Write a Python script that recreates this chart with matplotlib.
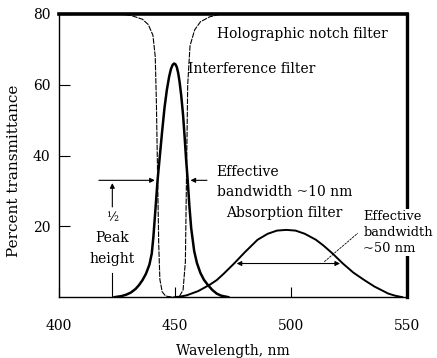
import numpy as np
import matplotlib.pyplot as plt

plt.rcParams['font.family'] = ['DejaVu Serif']
plt.rcParams['font.size'] = 10

# curves (wavelength nm, percent transmittance)
interf_x = [424, 427, 429, 431, 433, 434.5, 436, 437.5, 439, 440, 440.7,
            441.5, 442.5, 443.5, 444.5, 445.5, 446.5, 447.5, 448.3, 449,
            449.6, 450.2, 450.8, 451.4, 452, 452.7, 453.5, 454.2, 454.8,
            455.5, 456.2, 457, 458.3, 459.5, 461, 462.5, 464, 466, 468,
            470, 473]
interf_y = [0, 0.3, 0.7, 1.3, 2.3, 3.4, 4.8, 6.6, 9.2, 12.3, 17,
            24, 33, 40, 47, 53.5, 58.5, 62.3, 64.5, 65.6,
            66, 65.8, 65, 63.3, 60.8, 57, 51.5, 45, 39,
            33, 26, 19.5, 13, 9.6, 6.8, 4.9, 3.6, 2.1, 1.0,
            0.4, 0]

notch_x = [400, 425, 431, 436, 438.5, 440.5, 441.5, 442, 442.5, 443, 443.5,
           444.5, 446, 449, 452, 453.5, 454.5, 455, 455.5, 456.5, 458.5,
           461, 465, 470, 550]
notch_y = [80, 80, 79.6, 78.5, 77, 74, 68, 55, 35, 15, 5,
           1.5, 0.3, 0, 0.3, 2, 10, 35, 60, 71, 75.5,
           77.8, 79.2, 80, 80]

absorb_x = [451, 455, 460, 465, 468, 471, 475.5, 480, 485.6, 490, 494, 498,
            502, 506, 510.8, 514, 518, 522.4, 527, 531.7, 536, 539, 542,
            545, 548]
absorb_y = [0, 0.5, 1.7, 3.5, 4.8, 6.6, 9.5, 12.6, 16.2, 17.9, 18.8, 19,
            18.8, 17.9, 16.2, 14.6, 12.3, 9.5, 6.9, 4.8, 3.0, 2.0, 1.0,
            0.4, 0]

xticks = [400, 450, 500, 550]
yticks = [20, 40, 60, 80]

fig = plt.figure(figsize=(4.37, 3.58), dpi=100)
ax = fig.add_axes([0.135, 0.170, 0.796, 0.791])

ax.plot(notch_x, notch_y, color='black', lw=0.8, ls=(0, (5, 1)))
ax.plot(interf_x, interf_y, color='black', lw=1.8)
ax.plot(absorb_x, absorb_y, color='black', lw=1.4)

ax.set_xlim(400, 550)
ax.set_ylim(0, 80)
ax.set_xticks(xticks)
ax.set_yticks(yticks)
ax.set_xticklabels([str(t) for t in xticks])
ax.set_yticklabels([str(t) for t in yticks])
ax.tick_params(axis='x', direction='in', length=7, width=0.8, pad=16)
ax.tick_params(axis='y', direction='in', length=8, width=0.8, pad=6)
ax.set_xlabel('Wavelength, nm', labelpad=8)
ax.set_ylabel('Percent transmittance', fontsize=11)
ax.yaxis.set_label_coords(-0.108, 0.445)

for s in ['left', 'bottom']:
    ax.spines[s].set_linewidth(1.0)
ax.spines['top'].set_linewidth(2.6)
ax.spines['right'].set_linewidth(2.4)

# half peak markers for the interference filter
half = max(interf_y) / 2
arr = dict(arrowstyle='-|>', color='black', lw=0.8, mutation_scale=7)
ax.annotate('', xy=(442.5, half), xytext=(416, half), arrowprops=arr)
ax.annotate('', xy=(455.5, half), xytext=(465, half), arrowprops=arr)
ax.annotate('', xy=(423, half), xytext=(423, 24.7), arrowprops=arr)
ax.plot([423, 423], [0, 6.8], color='black', lw=0.8)
ax.text(423, 22.5, '½', ha='center', va='center', fontsize=9)
ax.text(423, 16.7, 'Peak', ha='center', va='center')
ax.text(423, 10.8, 'height', ha='center', va='center')

# absorption filter bandwidth
half_a = max(absorb_y) / 2
ax.annotate('', xy=(475.4, half_a), xytext=(522.4, half_a),
            arrowprops=dict(arrowstyle='<|-|>', color='black', lw=0.8,
                            mutation_scale=7))
ax.plot([514.4, 528.9], [10, 18.1], color='black', lw=0.6, ls=(0, (3, 1)))

ax.text(468, 74.3, 'Holographic notch filter', ha='left', va='center')
ax.text(455.5, 64.5, 'Interference filter', ha='left', va='center')
ax.text(468, 35.4, 'Effective', ha='left', va='center')
ax.text(468, 29.6, 'bandwidth ~10 nm', ha='left', va='center')
ax.text(472, 23.9, 'Absorption filter', ha='left', va='center')
ax.text(531.3, 18.3, 'Effective\nbandwidth\n~50 nm', ha='left', va='center',
        fontsize=9.4, linespacing=1.3, zorder=5, clip_on=False,
        bbox=dict(facecolor='white', edgecolor='none', pad=0.5))

fig.savefig('out.png', dpi=100)
